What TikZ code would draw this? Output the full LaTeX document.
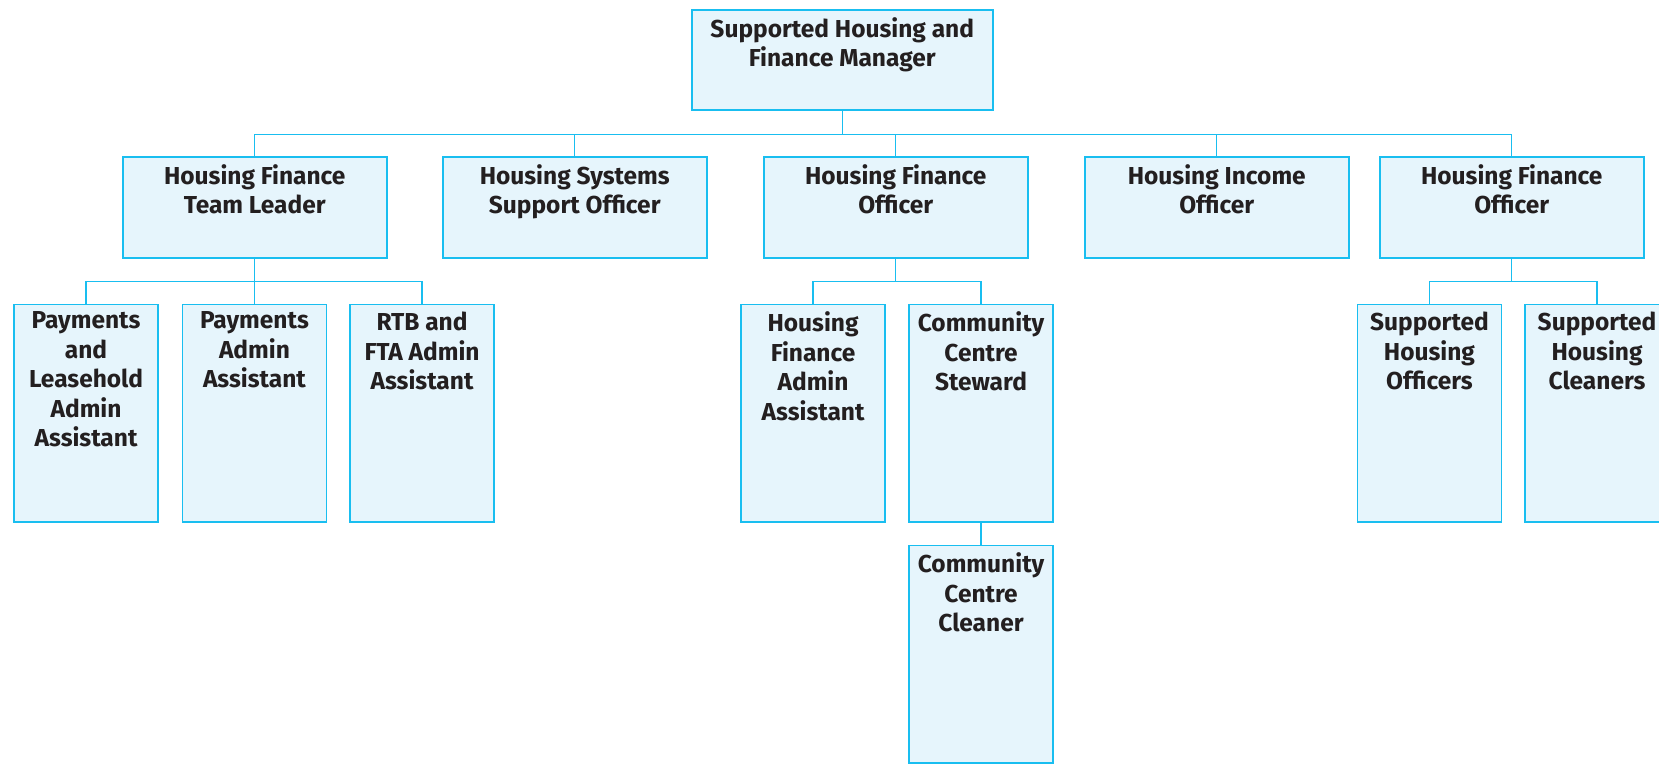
\documentclass[tikz,border=0pt]{standalone}
\usepackage{fontspec}
\setmainfont{Fira Sans}
\usetikzlibrary{calc}
\definecolor{boxline}{RGB}{25,190,240}
\definecolor{boxfill}{RGB}{230,245,252}
\definecolor{ink}{RGB}{35,31,32}
\begin{document}
\begin{tikzpicture}[x=1pt,y=-1pt,
  post/.style={draw=boxline, fill=boxfill, line width=1.5pt, anchor=north west, inner sep=0pt},
  wide/.style={post, minimum width=264pt, minimum height=101pt},
  tall/.style={post, minimum width=144pt, minimum height=217.5pt},
  lbl/.style={anchor=north, align=center, inner sep=0pt, text=ink,
    font=\bfseries\fontsize{24.5}{29.5}\selectfont,
    execute at begin node=\rule{0pt}{18pt}},
  link/.style={draw=boxline, line width=1.3pt}]
\useasboundingbox (0,0) rectangle (1659,764);
\clip (0,0) rectangle (1659,764);

% head of the team
\node[post, minimum width=301pt, minimum height=100pt] (mgr) at (691,9) {};
\node[lbl] (mgr-t) at ($(mgr.north)+(0,8)$) {Supported Housing and\\Finance Manager};

% second tier
\node[wide] (tl)  at (122,156) {};
\node[wide] (sys) at (442,156) {};
\node[wide] (fo)  at (763,156) {};
\node[wide] (inc) at (1084,156) {};
\node[wide] (fo2) at (1379,156) {};
\node[lbl] (tl-t)  at ($(tl.north)+(0,8)$)  {Housing Finance\\Team Leader};
\node[lbl] (sys-t) at ($(sys.north)+(0,8)$) {Housing Systems\\Support Officer};
\node[lbl] (fo-t)  at ($(fo.north)+(0,8)$)  {Housing Finance\\Officer};
\node[lbl] (inc-t) at ($(inc.north)+(0,8)$) {Housing Income\\Officer};
\node[lbl] (fo2-t) at ($(fo2.north)+(0,8)$) {Housing Finance\\Officer};

% third tier
\node[tall] (pla) at (13.3,303.7) {};
\node[tall] (paa) at (181.7,303.7) {};
\node[tall] (rtb) at (349.3,303.7) {};
\node[tall] (hfa) at (740.3,303.7) {};
\node[tall] (ccs) at (908.3,303.7) {};
\node[tall] (sho) at (1356.7,303.7) {};
\node[tall] (shc) at (1524.3,303.7) {};
\node[tall] (ccc) at (908.3,544.7) {};
\node[lbl] (pla-t) at ($(pla.north)+(0,8)$) {Payments\\and\\Leasehold\\Admin\\Assistant};
\node[lbl] (paa-t) at ($(paa.north)+(0,8)$) {Payments\\Admin\\Assistant};
\node[lbl] (rtb-t) at ($(rtb.north)+(0,8)$) {RTB and\\FTA Admin\\Assistant};
\node[lbl] (hfa-t) at ($(hfa.north)+(0,8)$) {Housing\\Finance\\Admin\\Assistant};
\node[lbl] (ccs-t) at ($(ccs.north)+(0,8)$) {Community\\Centre\\Steward};
\node[lbl] (sho-t) at ($(sho.north)+(0,8)$) {Supported\\Housing\\Officers};
\node[lbl] (shc-t) at ($(shc.north)+(0,8)$) {Supported\\Housing\\Cleaners};
\node[lbl] (ccc-t) at ($(ccc.north)+(0,8)$) {Community\\Centre\\Cleaner};

% reporting lines
\foreach \c in {tl,sys,fo,inc,fo2}
  \draw[link] (mgr.south) -- ++(0,23.7) -| (\c.north);
\foreach \c in {pla,paa,rtb}
  \draw[link] (tl.south) -- ++(0,23.3) -| (\c.north);
\foreach \c in {hfa,ccs}
  \draw[link] (fo.south) -- ++(0,23.3) -| (\c.north);
\foreach \c in {sho,shc}
  \draw[link] (fo2.south) -- ++(0,23.3) -| (\c.north);
\draw[link] (ccs.south) -- (ccc.north);
\end{tikzpicture}
\end{document}
